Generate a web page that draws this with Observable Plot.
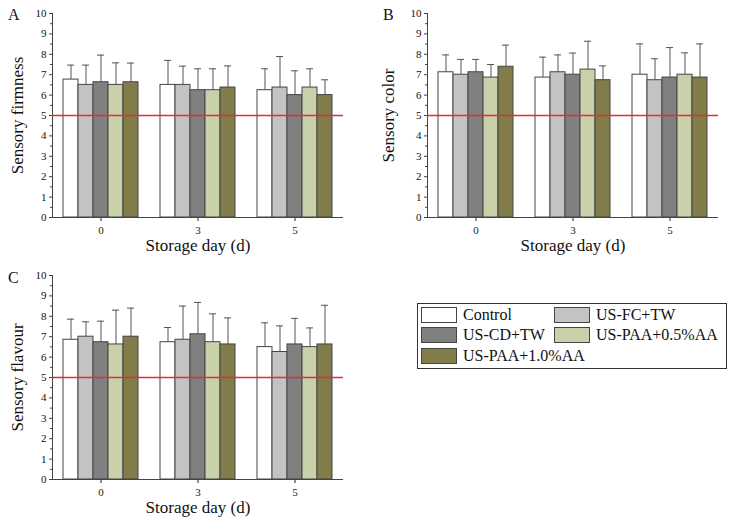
<!DOCTYPE html>
<html>
<head>
<meta charset="utf-8">
<script src="https://cdn.jsdelivr.net/npm/d3@7"></script>
<script src="https://cdn.jsdelivr.net/npm/@observablehq/plot@0.6"></script>
<style>
  html, body { margin: 0; padding: 0; background: #fff; overflow: hidden; }
  #root { position: relative; width: 738px; height: 519px; font-family: "Liberation Serif", serif; color: #111; }
  .panel { position: absolute; }
  .letter { position: absolute; font-size: 16px; }
  #legend { position: absolute; left: 417px; top: 303px; width: 308px; height: 64px; border: 1.5px solid #333; box-sizing: content-box; }
  .sw { position: absolute; width: 36px; height: 16px; border: 1px solid #444; box-sizing: border-box; }
  .lt { position: absolute; font-size: 16px; line-height: 16px; white-space: nowrap; }
</style>
</head>
<body>
<div id="root"></div>
<script>
const series = ["Control", "US-FC+TW", "US-CD+TW", "US-PAA+0.5%AA", "US-PAA+1.0%AA"];
const colors = ["#ffffff", "#c3c4c2", "#7f807f", "#c9d1ab", "#817c4a"];
const days = [0, 3, 5];

const firmnessMean = [[6.76, 6.5, 6.63, 6.5, 6.63], [6.5, 6.5, 6.24, 6.24, 6.37], [6.24, 6.37, 6.0, 6.37, 6.0]];
const firmnessSD   = [[0.71, 0.97, 1.33, 1.08, 0.94], [1.2, 0.92, 1.05, 1.05, 1.06], [1.05, 1.52, 1.19, 0.92, 0.75]];
const colorMean = [[7.12, 7.0, 7.12, 6.86, 7.39], [6.86, 7.12, 7.0, 7.25, 6.73], [7.0, 6.73, 6.86, 7.0, 6.86]];
const colorSD   = [[0.85, 0.75, 0.63, 0.64, 1.06], [1.0, 0.85, 1.06, 1.39, 0.7], [1.51, 1.05, 1.47, 1.07, 1.65]];
const flavourMean = [[6.85, 7.0, 6.73, 6.62, 7.0], [6.73, 6.85, 7.12, 6.73, 6.62], [6.49, 6.25, 6.62, 6.49, 6.62]];
const flavourSD   = [[1.01, 0.73, 1.03, 1.68, 1.4], [0.72, 1.65, 1.56, 1.39, 1.3], [1.19, 1.28, 1.28, 0.94, 1.92]];

const yTicks = [0, 1, 2, 3, 4, 5, 6, 7, 8, 9, 10];
const threshold = [{value: 5}];
const xLabel = "Storage day (d)";

function rows(means, sds) {
  const out = [];
  days.forEach((d, i) => series.forEach((s, j) => {
    out.push({day: d, series: s, mean: means[i][j], upper: means[i][j] + sds[i][j]});
  }));
  return out;
}

function panel(means, sds, yLabel, opts) {
  const data = rows(means, sds);
  return Plot.plot({
    width: opts.width, height: 256,
    marginLeft: opts.marginLeft, marginRight: opts.marginRight, marginTop: 13, marginBottom: 39,
    style: {fontFamily: "Liberation Serif, serif", fontSize: "11px", color: "#222", background: "transparent"},
    fx: {domain: days, padding: 0, tickSize: 4, tickPadding: 5, label: null},
    x: {domain: series, paddingInner: 0, paddingOuter: 0.62, axis: null},
    y: {domain: [0, 10]},
    color: {domain: series, range: colors},
    marks: [
      Plot.barY(data, {fx: "day", x: "series", y: "mean", fill: "series", stroke: "#444", strokeWidth: 1}),
      Plot.ruleX(data, {fx: "day", x: "series", y1: "mean", y2: "upper", stroke: "#555", strokeWidth: 1}),
      Plot.tickY(data, {fx: "day", x: "series", y: "upper", stroke: "#555", strokeWidth: 1, insetLeft: 4, insetRight: 4}),
      Plot.ruleY([0], {stroke: "#444", strokeWidth: 1}),
      Plot.frame({anchor: "left", facetAnchor: "left", stroke: "#444"}),
      Plot.axisY(yTicks, {tickSize: 3, tickPadding: 3, label: null, stroke: "#444", fill: "#111"}),
      Plot.axisY(yTicks.slice(0, -1).map(v => v + 0.5), {tickSize: 2, tickFormat: () => "", label: null, stroke: "#444"}),
      Plot.text([yLabel], {facet: "super", frameAnchor: "left", textAnchor: "middle", lineAnchor: "middle", dx: opts.labelDx, rotate: -90, fontSize: 17, fill: "#111"}),
      Plot.text([xLabel], {facet: "super", frameAnchor: "bottom", textAnchor: "middle", lineAnchor: "middle", dy: 28, fontSize: 17, fill: "#111"}),
      Plot.ruleY(threshold, {y: "value", stroke: "#ec2a32", strokeWidth: 1.6})
    ]
  });
}

const root = document.getElementById("root");
function place(node, left, topPx) {
  const wrap = document.createElement("div");
  wrap.className = "panel";
  wrap.style.left = left + "px";
  wrap.style.top = topPx + "px";
  wrap.appendChild(node);
  root.appendChild(wrap);
}
place(panel(firmnessMean, firmnessSD, "Sensory firmness", {width: 365, marginLeft: 51, marginRight: 22, labelDx: -35}), 0, 0);
place(panel(colorMean, colorSD, "Sensory color", {width: 368, marginLeft: 57, marginRight: 20, labelDx: -39}), 370, 0);
place(panel(flavourMean, flavourSD, "Sensory flavour", {width: 365, marginLeft: 51, marginRight: 22, labelDx: -35}), 0, 262);

const letters = [["A", 8, 6], ["B", 383, 6], ["C", 8, 269]];
letters.forEach(([t, x, y]) => {
  const s = document.createElement("div");
  s.className = "letter"; s.textContent = t;
  s.style.left = x + "px"; s.style.top = y + "px";
  root.appendChild(s);
});

const legend = document.createElement("div");
legend.id = "legend";
root.appendChild(legend);
const legendPos = [[3, 3], [136, 3], [3, 23], [136, 23], [3, 44]];
series.forEach((s, i) => {
  const [lx, ly] = legendPos[i];
  const sw = document.createElement("div");
  sw.className = "sw";
  sw.style.left = lx + "px"; sw.style.top = ly + "px"; sw.style.background = colors[i];
  legend.appendChild(sw);
  const t = document.createElement("div");
  t.className = "lt"; t.textContent = s;
  t.style.left = (lx + 42) + "px"; t.style.top = (ly) + "px";
  legend.appendChild(t);
});
</script>
</body>
</html>
